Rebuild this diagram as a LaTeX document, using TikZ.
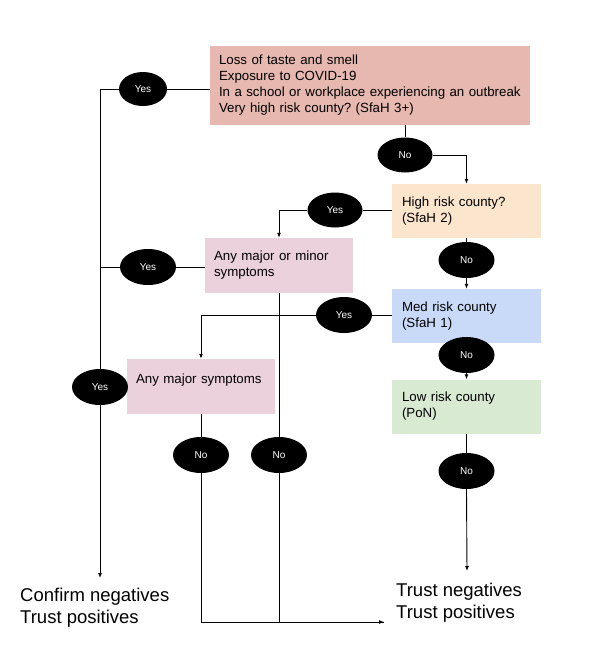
\documentclass[tikz,border=0pt]{standalone}
\usepackage{fontspec}
\setmainfont{Liberation Sans}
\usetikzlibrary{shapes.geometric,arrows.meta}
\definecolor{cRed}{HTML}{E6B8AF}
\definecolor{cPeach}{HTML}{FCE5CD}
\definecolor{cPink}{HTML}{EAD1DC}
\definecolor{cBlue}{HTML}{C9DAF8}
\definecolor{cGreen}{HTML}{D9EAD3}
\frenchspacing
\begin{document}
\begin{tikzpicture}[x=1pt,y=-1pt,
  box/.style={rectangle, draw=none, inner ysep=0pt, align=left,
    font=\fontsize{13.3}{16}\selectfont\frenchspacing},
  wbox/.style={box, inner xsep=10pt, text width=129pt, minimum width=149pt, minimum height=54pt},
  pbox/.style={box, fill=cPink, inner xsep=9pt, text width=130pt, minimum width=148pt, minimum height=55pt},
  oval/.style={ellipse, fill=black, text=white, inner sep=0pt,
    minimum width=56pt, minimum height=36pt, font=\fontsize{10}{12}\selectfont},
  res/.style={align=left, inner sep=0pt, anchor=west, font=\fontsize{18.5}{22}\selectfont},
  conn/.style={draw=black, line width=0.9pt},
  arr/.style={conn, -{Latex[length=5pt,width=4pt]}}
]
\useasboundingbox (0,0) rectangle (611,662);
\fill[white] (0,0) rectangle (611,662);

% boxes
\node[box, fill=cRed, inner xsep=9pt, text width=302pt, minimum width=320pt, minimum height=79pt] (top) at (370,85.5)
  {Loss of taste and smell\\Exposure to COVID-19\\In a school or workplace experiencing an outbreak\\Very high risk county? (SfaH 3+)};
\node[wbox, fill=cPeach] (high) at (466.5,211) {High risk county?\\(SfaH 2)};
\node[wbox, fill=cBlue] (med) at (466.5,316) {Med risk county\\(SfaH 1)};
\node[wbox, fill=cGreen] (low) at (466.5,406.5) {Low risk county\\(PoN)};
\node[pbox] (majmin) at (279,265.5) {Any major or minor\\symptoms};
\node[pbox] (major) at (201,386.5) {Any major symptoms\\\phantom{x}};

% ovals
\node[oval, minimum width=48pt, minimum height=34pt] (yes1) at (143,89) {Yes};
\node[oval, minimum width=55pt, minimum height=35pt] (no1) at (405,155) {No};
\node[oval, minimum width=55pt, minimum height=35pt] (yes2) at (335,210) {Yes};
\node[oval] (no2) at (466.5,260) {No};
\node[oval] (yesm) at (148,267) {Yes};
\node[oval] (yes3) at (344,315) {Yes};
\node[oval] (no3) at (466.5,355) {No};
\node[oval] (yes4) at (100,387) {Yes};
\node[oval] (no6) at (201,455) {No};
\node[oval] (no5) at (279,455) {No};
\node[oval] (no4) at (466.5,471) {No};

% results
\node[res] (confirm) at (20,608) {Confirm negatives\\Trust positives};
\node[res] (trust) at (396,602.5) {Trust negatives\\Trust positives};
\coordinate (cA) at (100,578);
\coordinate (cB) at (467,571);
\coordinate (cC) at (384,622);
\coordinate (cL) at (100,267);

% connectors
\draw[conn] (top.west |- yes1) -- (yes1.east);
\draw[conn] (yes1.west) -| (yes4.north);
\draw[arr] (yes4.south) -- (cA);
\draw[conn] (no1.north) -- (no1 |- top.south);
\draw[arr] (no1.east) -| (high.north);
\draw[conn] (high.west |- yes2) -- (yes2.east);
\draw[arr] (yes2.west) -| (majmin.north);
\draw[conn] (high.south) -- (no2.north);
\draw[arr] (no2.south) -- (med.north);
\draw[conn] (majmin.west |- yesm) -- (yesm.east);
\draw[conn] (yesm.west) -- (cL);
\draw[conn] (med.west |- yes3) -- (yes3.east);
\draw[arr] (yes3.west) -| (major.north);
\draw[conn] (med.south) -- (no3.north);
\draw[arr] (no3.south) -- (low.north);
\draw[conn] (low.south) -- (no4.north);
\draw[arr] (no4.south) -- (cB);
\draw[conn] (majmin.south) -- (no5.north);
\draw[conn] (major.south) -- (no6.north);
\draw[conn] (no6.south) |- (cC);
\draw[arr] (no5.south) |- (cC);
\end{tikzpicture}
\end{document}
